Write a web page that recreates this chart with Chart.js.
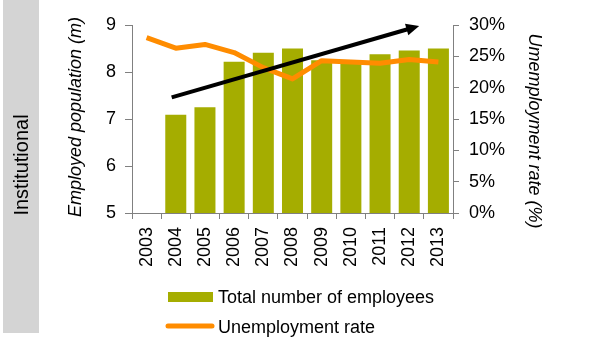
<!DOCTYPE html>
<html>
<head>
<meta charset="utf-8">
<script src="https://cdn.jsdelivr.net/npm/chart.js@4.4.0/dist/chart.umd.min.js"></script>
<style>
  html, body { margin: 0; padding: 0; background: #fff; }
  #wrap { width: 615px; height: 340px; }
</style>
</head>
<body>
<div id="wrap"><canvas id="employmentChart" width="615" height="340"></canvas></div>
<script>
// Data
const years = ['2003', '2004', '2005', '2006', '2007', '2008', '2009', '2010', '2011', '2012', '2013'];
const employees = [null, 7.09, 7.25, 8.22, 8.41, 8.50, 8.25, 8.24, 8.38, 8.46, 8.50];
const unemploymentRate = [28.0, 26.3, 26.9, 25.6, 23.2, 21.4, 24.3, 24.1, 23.9, 24.5, 24.1];
const employeeRange = [5, 9];
const rateRange = [0, 30];
// trend arrow, in (category index, employed population) units
const trendStart = [0.86, 7.46];
const trendEnd = [9.34, 8.98];

const FONT = '"Liberation Sans", Arial, sans-serif';
const OLIVE = '#a5ad00';
const ORANGE = '#ff8c00';
const AXIS = '#808080';

Chart.defaults.font.family = FONT;
Chart.defaults.font.size = 18;
Chart.defaults.color = '#000';

const decorations = {
    id: 'decorations',
    beforeDraw(chart) {
        const ctx = chart.ctx;
        ctx.save();
        // side band with the sector name
        ctx.fillStyle = '#d4d4d4';
        ctx.fillRect(3, 0, 36, 333);
        ctx.translate(22, 165);
        ctx.rotate(-Math.PI / 2);
        ctx.fillStyle = '#000';
        ctx.font = '20px ' + FONT;
        ctx.textAlign = 'center';
        ctx.textBaseline = 'middle';
        ctx.fillText('Institutional', 0, 0);
        ctx.restore();
    },
    afterDatasetsDraw(chart) {
        const ctx = chart.ctx;
        const xs = chart.scales.x, ys = chart.scales.y;
        const x0 = xs.getPixelForValue(trendStart[0]), y0 = ys.getPixelForValue(trendStart[1]);
        const x1 = xs.getPixelForValue(trendEnd[0]), y1 = ys.getPixelForValue(trendEnd[1]);
        const ang = Math.atan2(y1 - y0, x1 - x0);
        const head = 13, half = 6;
        const bx = x1 - head * Math.cos(ang), by = y1 - head * Math.sin(ang);
        ctx.save();
        ctx.strokeStyle = '#000';
        ctx.fillStyle = '#000';
        ctx.lineWidth = 4;
        ctx.beginPath();
        ctx.moveTo(x0, y0);
        ctx.lineTo(bx + Math.cos(ang), by + Math.sin(ang));
        ctx.stroke();
        ctx.beginPath();
        ctx.moveTo(x1, y1);
        ctx.lineTo(bx - half * Math.sin(ang), by + half * Math.cos(ang));
        ctx.lineTo(bx + half * Math.sin(ang), by - half * Math.cos(ang));
        ctx.closePath();
        ctx.fill();
        ctx.restore();
    },
    afterDraw(chart) {
        const ctx = chart.ctx;
        ctx.save();
        ctx.fillStyle = '#000';
        ctx.textAlign = 'center';
        ctx.textBaseline = 'middle';
        ctx.font = 'italic 18px ' + FONT;

        // axis titles
        ctx.save();
        ctx.translate(76, 117);
        ctx.rotate(-Math.PI / 2);
        ctx.fillText('Employed population (m)', 0, 0);
        ctx.restore();

        ctx.save();
        ctx.translate(534, 131);
        ctx.rotate(Math.PI / 2);
        ctx.fillText('Umemployment rate (%)', 0, 0);
        ctx.restore();

        // legend
        const bars = chart.data.datasets[1], line = chart.data.datasets[0];
        ctx.font = '18px ' + FONT;
        ctx.textAlign = 'left';
        ctx.fillStyle = bars.backgroundColor;
        ctx.fillRect(168, 292, 45, 10);
        ctx.fillStyle = '#000';
        ctx.fillText(bars.label, 218, 298);

        ctx.strokeStyle = line.borderColor;
        ctx.lineWidth = 5;
        ctx.lineCap = 'round';
        ctx.beginPath();
        ctx.moveTo(168, 326);
        ctx.lineTo(212, 326);
        ctx.stroke();
        ctx.fillText(line.label, 218, 328);
        ctx.restore();
    }
};

new Chart(document.getElementById('employmentChart'), {
    type: 'bar',
    data: {
        labels: years,
        datasets: [
            {
                type: 'line',
                label: 'Unemployment rate',
                data: unemploymentRate,
                yAxisID: 'y1',
                borderColor: ORANGE,
                borderWidth: 5,
                borderJoinStyle: 'round',
                pointRadius: 0,
                tension: 0,
                order: 0
            },
            {
                type: 'bar',
                label: 'Total number of employees',
                data: employees,
                yAxisID: 'y',
                backgroundColor: OLIVE,
                categoryPercentage: 0.8,
                barPercentage: 0.9,
                order: 1
            }
        ]
    },
    options: {
        responsive: false,
        animation: false,
        layout: { padding: { left: 0, right: 0, top: 25, bottom: 0 } },
        plugins: {
            legend: { display: false },
            tooltip: { enabled: false }
        },
        scales: {
            x: {
                grid: { drawOnChartArea: false, tickLength: 6, color: AXIS },
                border: { color: AXIS },
                ticks: { minRotation: 90, maxRotation: 90, padding: 8, font: { size: 18 } },
                afterFit: function (scale) { scale.height = 127; }
            },
            y: {
                position: 'left',
                min: employeeRange[0],
                max: employeeRange[1],
                ticks: { stepSize: 1, padding: 9 },
                grid: { drawOnChartArea: false, tickLength: 7, color: AXIS },
                border: { color: AXIS },
                afterFit: function (scale) { scale.width = 132; }
            },
            y1: {
                position: 'right',
                min: rateRange[0],
                max: rateRange[1],
                ticks: {
                    stepSize: 5,
                    padding: 10,
                    callback: function (v) { return v + '%'; }
                },
                grid: { drawOnChartArea: false, tickLength: 6, color: AXIS },
                border: { color: AXIS },
                afterFit: function (scale) { scale.width = 162; }
            }
        }
    },
    plugins: [decorations]
});
</script>
</body>
</html>
